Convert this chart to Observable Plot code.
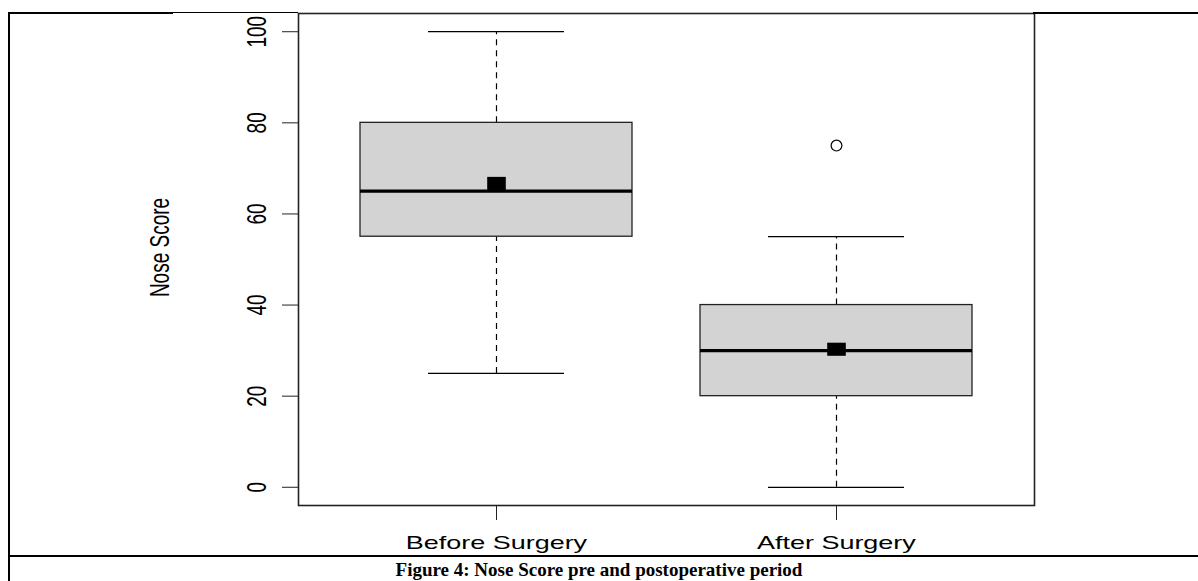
<!DOCTYPE html>
<html><head><meta charset="utf-8">
<script src="https://cdn.jsdelivr.net/npm/d3@7"></script>
<script src="https://cdn.jsdelivr.net/npm/@observablehq/plot@0.6"></script>
<style>
html,body{margin:0;padding:0;background:#fff}
body{width:1198px;height:581px;overflow:hidden;position:relative;font-family:"Liberation Sans",Arial,sans-serif}
#chart{position:absolute;left:0;top:0}
.ln{position:absolute;background:#000}
#caption{position:absolute;left:0;width:1198px;top:559px;text-align:center;font:bold 19px/22px "Liberation Serif","Times New Roman",serif;color:#000}
</style></head>
<body>
<div id="chart"></div>
<div class="ln" style="left:8px;top:12px;width:165px;height:2px"></div>
<div class="ln" style="left:173px;top:12px;width:125px;height:1px"></div>
<div class="ln" style="left:1033px;top:12px;width:165px;height:2px"></div>
<div class="ln" style="left:8px;top:12px;width:2px;height:569px"></div>
<div class="ln" style="left:8px;top:555px;width:1190px;height:2px"></div>
<div id="caption">Figure 4: Nose Score pre and postoperative period</div>
<script>
// ---- data ----
const groups = ["Before Surgery", "After Surgery"];
const whiskerLow = [25, 0];
const quartile1 = [55, 20];
const medians = [65, 30];
const quartile3 = [80, 40];
const whiskerHigh = [100, 55];
const means = [66.7, 30.3];
const outlierGroups = ["After Surgery"];
const outlierValues = [75];
const yTicks = [0, 20, 40, 60, 80, 100];
const yLabel = "Nose Score";

const rows = groups.map((g, i) => ({
  group: g, lo: whiskerLow[i], q1: quartile1[i], med: medians[i],
  q3: quartile3[i], hi: whiskerHigh[i], mean: means[i]
}));
const outliers = outlierGroups.map((g, i) => ({group: g, value: outlierValues[i]}));

// horizontally stretched square (the reference image is stretched)
const STRETCH = 1.42;
const squareSymbol = {
  draw(ctx, size) {
    const r = Math.sqrt(size / Math.PI);
    const h = r / STRETCH;
    ctx.moveTo(-r, -h); ctx.lineTo(r, -h); ctx.lineTo(r, h); ctx.lineTo(-r, h); ctx.closePath();
  }
};

const chart = Plot.plot({
  width: 1198,
  height: 556,
  marginLeft: 298,
  marginRight: 164,
  marginTop: 13,
  marginBottom: 51,
  style: {fontFamily: "'Liberation Sans', Arial, sans-serif", fontSize: "19px", color: "#000", background: "transparent"},
  x: {type: "band", domain: groups, paddingInner: 0.2, paddingOuter: 0.18},
  y: {domain: [-4, 104]},
  marks: [
    Plot.ruleX(rows, {x: "group", y1: "q3", y2: "hi", stroke: "#000", strokeWidth: 1.2, strokeDasharray: "6,5"}),
    Plot.ruleX(rows, {x: "group", y1: "lo", y2: "q1", stroke: "#000", strokeWidth: 1.2, strokeDasharray: "6,5"}),
    Plot.tickY(rows, {x: "group", y: "hi", stroke: "#000", strokeWidth: 1.2, insetLeft: 68, insetRight: 68}),
    Plot.tickY(rows, {x: "group", y: "lo", stroke: "#000", strokeWidth: 1.2, insetLeft: 68, insetRight: 68}),
    Plot.barY(rows, {x: "group", y1: "q1", y2: "q3", fill: "#d3d3d3", stroke: "#222", strokeWidth: 1.3}),
    Plot.tickY(rows, {x: "group", y: "med", stroke: "#000", strokeWidth: 3.3}),
    Plot.dot(rows, {x: "group", y: "mean", symbol: squareSymbol, r: 9.3, fill: "#000", stroke: "none"}),
    Plot.dot(outliers, {x: "group", y: "value", symbol: "circle", r: 5.4, stroke: "#000", strokeWidth: 1.2, fill: "none"}),
    Plot.frame({stroke: "#222", strokeWidth: 1.6}),
    Plot.axisX({tickSize: 15, tickPadding: 15, fontSize: 19, label: null, stroke: "#222"}),
    Plot.axisY({ticks: yTicks, tickSize: 16, tickRotate: -90, tickPadding: 19, fontSize: 19, label: null, stroke: "#222"}),
    Plot.text([yLabel], {frameAnchor: "left", textAnchor: "middle", lineAnchor: "middle", dx: -138, dy: -12, rotate: -90, fontSize: 19, fill: "#000"})
  ]
});
document.getElementById("chart").appendChild(chart);

// apply the horizontal stretch seen in the reference to the text (screen-space scaleX about each text's centre)
function stretchText(t) {
  const r = t.getBoundingClientRect();
  const parent = t.parentNode;
  const pt = chart.createSVGPoint();
  pt.x = r.x + r.width / 2; pt.y = r.y + r.height / 2;
  const p = pt.matrixTransform(parent.getScreenCTM().inverse());
  const g = document.createElementNS("http://www.w3.org/2000/svg", "g");
  g.setAttribute("transform", `translate(${p.x},0) scale(${STRETCH},1) translate(${-p.x},0)`);
  parent.insertBefore(g, t);
  g.appendChild(t);
}
Array.from(chart.querySelectorAll("text")).forEach(stretchText);
</script>
</body></html>
